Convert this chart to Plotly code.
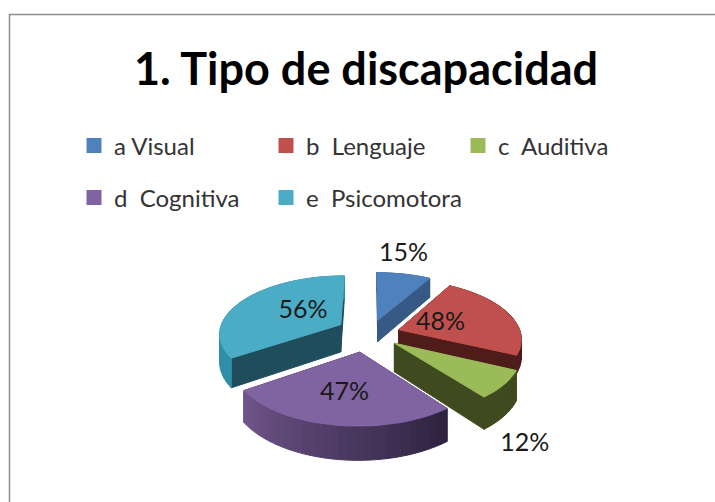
import numpy as np
import plotly.graph_objects as go

# data
categories = ["a Visual", "b  Lenguaje", "c  Auditiva", "d  Cognitiva", "e  Psicomotora"]
percent = [15, 48, 12, 47, 56]
slice_deg = [30, 85, 27, 94, 124]

top_colors = ["#4f81bd", "#c0504d", "#9bbb59", "#8064a2", "#4bacc6"]
cut_colors = ["#365a85", "#4f1c1a", "#3f4a1f", "#3a2c4c", "#1f4d5b"]
arc_right = ["#365a85", "#4f1c1a", "#3f4a1f", "#2e2340", "#2e8fa8"]
arc_left = ["#365a85", "#4f1c1a", "#3f4a1f", "#70558a", "#2e8fa8"]
label_angle = [11, 69, 145.5, 192, 308]
label_radius = [1.8, 0.64, 1.78, 0.88, 0.74]

# pie geometry, in page pixels
cx, cy = 370, 334
rx, ry = 122, 58
persp = 0.14
explode = [0.25, 0.25, 0.25, 0.31, 0.296]
explode_deg = [15, 72.5, 128.5, 195, 304]
depth = [22, 17, 28, 28, 28]

# legend entries: page x of each entry, page y of each row
legend_x = [74, 266, 458, 74, 266]
legend_y = [146, 146, 146, 198, 198]


def project(u, v, down=0.0):
    s = 1 / (1 + persp * v)
    return cx + rx * u * s, cy - ry * v * s + down * s


def to_rgb(c):
    return np.array([int(c[i:i + 2], 16) for i in (1, 3, 5)], dtype=float)


def face(xs, ys, color, group):
    return go.Scatter(x=xs, y=ys, mode="lines", fill="toself", fillcolor=color,
                      line=dict(color=color, width=1), hoverinfo="skip",
                      showlegend=False, legendgroup=group)


fig = go.Figure()

shares = np.array(slice_deg, dtype=float)
ends = np.cumsum(shares)
starts = ends - shares

# painter's order: back slices first
for i in [0, 4, 1, 2, 3]:
    name = categories[i]
    du = explode[i] * np.sin(np.radians(explode_deg[i]))
    dv = explode[i] * np.cos(np.radians(explode_deg[i]))
    th = np.radians(np.linspace(starts[i], ends[i], max(int(shares[i] / 3), 4) + 1))
    us = du + np.sin(th)
    vs = dv + np.cos(th)

    # the two cut faces
    for k in [0, -1]:
        ax0, ay0 = project(du, dv)
        ax1, ay1 = project(du, dv, depth[i])
        ex0, ey0 = project(us[k], vs[k])
        ex1, ey1 = project(us[k], vs[k], depth[i])
        fig.add_trace(face([ax0, ex0, ex1, ax1, ax0], [ay0, ey0, ey1, ay1, ay0], cut_colors[i], name))

    # outer rim, shaded strip by strip
    c0, c1 = to_rgb(arc_right[i]), to_rgb(arc_left[i])
    for k in range(len(th) - 1):
        t = k / max(len(th) - 2, 1)
        c = c0 + (c1 - c0) * t
        color = "rgb(%d,%d,%d)" % tuple(c)
        x0, y0 = project(us[k], vs[k])
        x1, y1 = project(us[k + 1], vs[k + 1])
        x2, y2 = project(us[k + 1], vs[k + 1], depth[i])
        x3, y3 = project(us[k], vs[k], depth[i])
        fig.add_trace(face([x0, x1, x2, x3, x0], [y0, y1, y2, y3, y0], color, name))

    # top surface
    ax, ay = project(du, dv)
    px, py = project(us, vs)
    fig.add_trace(face([ax, *px, ax], [ay, *py, ay], top_colors[i], name))

# data labels
lx, ly = [], []
for i in range(len(percent)):
    a = np.radians(label_angle[i])
    x, y = project(label_radius[i] * np.sin(a), label_radius[i] * np.cos(a), 3)
    lx.append(x)
    ly.append(y)
fig.add_trace(go.Scatter(x=lx, y=ly, mode="text", text=["%d%%" % p for p in percent],
                         textposition="middle center", hoverinfo="skip", showlegend=False,
                         textfont=dict(family="Lato", size=25, color="#1a1a1a")))

# one legend per entry, so the columns can sit where they do in the chart
legends = {}
for i, name in enumerate(categories):
    key = "legend" if i == 0 else "legend%d" % (i + 1)
    fig.add_trace(go.Scatter(x=[None], y=[None], mode="markers", name=name, legendgroup=name,
                             legend=key,
                             marker=dict(symbol="square", size=15, color=top_colors[i])))
    legends[key] = dict(orientation="h", xanchor="left", yanchor="middle",
                        x=legend_x[i] / 715, y=1 - legend_y[i] / 502,
                        bgcolor="rgba(0,0,0,0)", itemwidth=30,
                        font=dict(family="Lato", size=24, color="#333333"))

fig.update_layout(
    width=715, height=502, margin=dict(l=0, r=0, t=0, b=0),
    paper_bgcolor="white", plot_bgcolor="white",
    title=dict(text="<b>1. Tipo de discapacidad</b>", x=366 / 715, y=1 - 69 / 502,
               xanchor="center", yanchor="middle", xref="paper", yref="paper",
               font=dict(family="Lato", size=45, color="black")),
    xaxis=dict(range=[0, 715], visible=False, fixedrange=True),
    yaxis=dict(range=[502, 0], visible=False, fixedrange=True),
    shapes=[dict(type="rect", xref="x", yref="y", x0=9.5, y0=14.5, x1=740, y1=540,
                 line=dict(color="#8c8c8c", width=1.5), layer="below")],
    **legends,
)

fig.write_html("out.html", config=dict(displayModeBar=False),
               post_script="document.body.style.margin='0';")
